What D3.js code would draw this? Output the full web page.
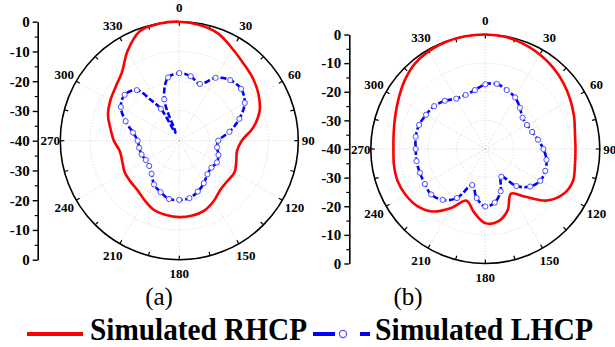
<!DOCTYPE html>
<html>
<head>
<meta charset="utf-8">
<script src="https://cdn.jsdelivr.net/npm/d3@7"></script>
<style>
  body { margin: 0; background: #fff; }
  svg { display: block; }
  text { font-family: "Liberation Serif", "Times New Roman", serif; }
</style>
</head>
<body>
<svg id="chart" width="615" height="347"></svg>
<script>
// angles (deg, clockwise from top) and gain values (dB)
const angles = [0, 10, 20, 30, 40, 50, 60, 70, 80, 90, 100, 110, 120, 130, 140, 150, 160, 170,
  180, 190, 200, 210, 220, 230, 240, 250, 260, 270, 280, 290, 300, 310, 320, 330, 340, 350];

const rhcpA = [0, -0.5, -1.7, -4.3, -6.3, -7.6, -9.2, -11.3, -14.8, -19.0, -20.3, -19.6, -18.6, -18.9, -18.5, -16.7, -15.1, -14.5,
  -14.3, -14.6, -15.2, -16.8, -18.2, -18.6, -18.8, -19.6, -19.7, -18.0, -16.5, -14.5, -13.2, -12.0, -10.0, -5.2, -0.9, -0.1];

// LHCP (a) has a deep null near 335 deg, sampled in between the marker points
const lhcpAnglesA = [0, 10, 20, 30, 40, 50, 60, 70, 80, 90, 100, 110, 120, 130, 140, 150, 160, 170,
  180, 190, 200, 210, 220, 230, 240, 250, 260, 270, 280, 290, 300, 310, 320, 325, 330, 335, 340, 350];
const lhcpA = [-17.3, -18.0, -19.7, -15.6, -13.4, -12.9, -14.6, -18.5, -22.9, -26.9, -27.1, -26.0, -25.4, -25.9, -25.3, -23.5, -21.8, -20.4,
  -20.1, -20.1, -21.6, -23.0, -25.5, -26.8, -27.0, -26.5, -26.3, -26.0, -24.2, -20.8, -17.3, -16.0, -17.8, -23.2, -27.6, -37.0, -25.2, -18.4];

const rhcpB = [0, -0.2, -0.9, -1.9, -3.0, -4.3, -5.7, -7.0, -8.2, -8.5, -8.2, -7.4, -8.5, -12.0, -18.2, -22.0, -17.2, -14.3,
  -14.1, -17.5, -20.8, -16.2, -11.5, -9.0, -7.9, -7.4, -7.6, -7.9, -7.5, -6.5, -5.0, -3.1, -1.4, -0.5, -0.1, 0];
const lhcpB = [-17.4, -16.9, -18.1, -19.2, -21.2, -23.0, -23.2, -22.6, -21.3, -19.7, -18.3, -17.7, -17.8, -19.6, -23.1, -28.8, -24.3, -21.0,
  -19.9, -22.6, -26.6, -20.2, -16.8, -15.3, -15.6, -15.7, -15.6, -15.7, -15.3, -15.4, -16.1, -16.7, -18.0, -19.7, -19.9, -19.1];

const angleLabels = [0, 30, 60, 90, 120, 150, 180, 210, 240, 270, 300, 330];
const upperTicks = [0, -10, -20, -30, -40];
const lowerTicks = [-30, -20, -10, 0];
const minorTicks = [-5, -15, -25, -35];
const gridRings = [-10, -20, -30];
const seriesNames = ["Simulated RHCP", "Simulated LHCP"];
const panelNames = ["(a)", "(b)"];

const RED = "#ff0000", BLUE = "#0000ff";
const svg = d3.select("#chart");
const rad = Math.PI / 180;

function pack(a, v) {
  return a.map(function(d, i) { return { a: d, v: v[i] }; });
}

function drawPolar(cx, cy, R, axisX, rhcp, lhcp) {
  const r = d3.scaleLinear().domain([-40, 0]).range([0, R]);
  const g = svg.append("g").attr("transform", "translate(" + cx + "," + cy + ")");

  // dotted grid
  g.selectAll(".ring").data(gridRings).enter().append("circle")
    .attr("r", function(d) { return r(d); })
    .attr("fill", "none").attr("stroke", "#c8c8c8").attr("stroke-width", 0.8)
    .attr("stroke-dasharray", "1,2");
  g.selectAll(".spoke").data(angleLabels).enter().append("line")
    .attr("x1", 0).attr("y1", 0)
    .attr("x2", function(d) { return R * Math.sin(d * rad); })
    .attr("y2", function(d) { return -R * Math.cos(d * rad); })
    .attr("stroke", "#c8c8c8").attr("stroke-width", 0.8).attr("stroke-dasharray", "1,2");

  // outer circle with inward ticks every 15 deg
  g.append("circle").attr("r", R).attr("fill", "none").attr("stroke", "#000").attr("stroke-width", 1.6);
  g.selectAll(".otick").data(d3.range(0, 360, 15)).enter().append("line")
    .attr("x1", function(d) { return R * Math.sin(d * rad); })
    .attr("y1", function(d) { return -R * Math.cos(d * rad); })
    .attr("x2", function(d) { return (R - 4) * Math.sin(d * rad); })
    .attr("y2", function(d) { return -(R - 4) * Math.cos(d * rad); })
    .attr("stroke", "#000").attr("stroke-width", 1.2);

  const line = d3.lineRadial()
    .angle(function(d) { return d.a * rad; })
    .radius(function(d) { return r(d.v); })
    .curve(d3.curveCatmullRomClosed.alpha(0.5));

  g.append("path").datum(rhcp)
    .attr("fill", "none").attr("stroke", RED).attr("stroke-width", 2.6)
    .attr("d", line);

  g.append("path").datum(lhcp)
    .attr("fill", "none").attr("stroke", BLUE).attr("stroke-width", 2.6)
    .attr("stroke-dasharray", "6,2.5")
    .attr("d", line);

  g.selectAll(".mk").data(lhcp.filter(function(d) { return d.a % 10 === 0; })).enter().append("circle")
    .attr("cx", function(d) { return r(d.v) * Math.sin(d.a * rad); })
    .attr("cy", function(d) { return -r(d.v) * Math.cos(d.a * rad); })
    .attr("r", 2.6).attr("fill", "#fff").attr("stroke", "#5050ff").attr("stroke-width", 1);

  // angle labels
  g.selectAll(".alab").data(angleLabels).enter().append("text")
    .attr("x", function(d) { const k = (d === 90 || d === 270) ? 10 : 14; return (R + k) * Math.sin(d * rad); })
    .attr("y", function(d) { const k = (d === 90 || d === 270) ? 10 : 14; return -(R + k) * Math.cos(d * rad); })
    .attr("text-anchor", "middle").attr("dominant-baseline", "central")
    .attr("font-size", 13).attr("font-weight", "bold")
    .text(function(d) { return d; });

  // radial dB axis at the left: 0 at the rim, -40 at the centre, 0 again at the bottom
  const up = d3.scaleLinear().domain([0, -40]).range([cy - R, cy]);
  const down = d3.scaleLinear().domain([-40, 0]).range([cy, cy + R]);
  const fmt = function(d) { return String(d); };
  [[up, upperTicks], [down, lowerTicks]].forEach(function(p) {
    const ax = svg.append("g").attr("transform", "translate(" + axisX + ",0)")
      .call(d3.axisLeft(p[0]).tickValues(p[1]).tickSize(5).tickSizeOuter(0).tickPadding(3).tickFormat(fmt));
    ax.selectAll("text").attr("font-size", 15).attr("font-weight", "bold")
      .attr("font-family", "'Liberation Serif', 'Times New Roman', serif").attr("fill", "#000");
    ax.selectAll("line").attr("stroke-width", 1.4);
    ax.select(".domain").attr("stroke-width", 1.6);
    const mn = svg.append("g").attr("transform", "translate(" + axisX + ",0)")
      .call(d3.axisLeft(p[0]).tickValues(minorTicks).tickSize(3).tickSizeOuter(0).tickFormat(""));
    mn.select(".domain").remove();
    mn.selectAll("line").attr("stroke-width", 1.2);
  });
}

drawPolar(179.3, 140.7, 119, 37.7, pack(angles, rhcpA), pack(lhcpAnglesA, lhcpA));
drawPolar(485.3, 149, 114.5, 349.3, pack(angles, rhcpB), pack(angles, lhcpB));

// panel captions
svg.selectAll(".cap").data(panelNames).enter().append("text")
  .attr("x", function(d, i) { return [159, 408][i]; })
  .attr("y", 305)
  .attr("text-anchor", "middle").attr("font-size", 25)
  .text(function(d) { return d; });

// legend
const lg = svg.append("g");
lg.append("line").attr("x1", 27).attr("x2", 83).attr("y1", 334).attr("y2", 334)
  .attr("stroke", RED).attr("stroke-width", 4);
lg.append("text").attr("x", 90).attr("y", 340).attr("font-size", 32).attr("font-weight", "bold")
  .attr("textLength", 217).attr("lengthAdjust", "spacingAndGlyphs").text(seriesNames[0]);
lg.append("line").attr("x1", 313).attr("x2", 335).attr("y1", 334).attr("y2", 334)
  .attr("stroke", BLUE).attr("stroke-width", 4);
lg.append("line").attr("x1", 360).attr("x2", 370).attr("y1", 334).attr("y2", 334)
  .attr("stroke", BLUE).attr("stroke-width", 4);
lg.append("circle").attr("cx", 343).attr("cy", 334).attr("r", 3.6)
  .attr("fill", "#fff").attr("stroke", "#5050ff").attr("stroke-width", 1.2);
lg.append("text").attr("x", 375).attr("y", 340).attr("font-size", 32).attr("font-weight", "bold")
  .attr("textLength", 218).attr("lengthAdjust", "spacingAndGlyphs").text(seriesNames[1]);
</script>
</body>
</html>
